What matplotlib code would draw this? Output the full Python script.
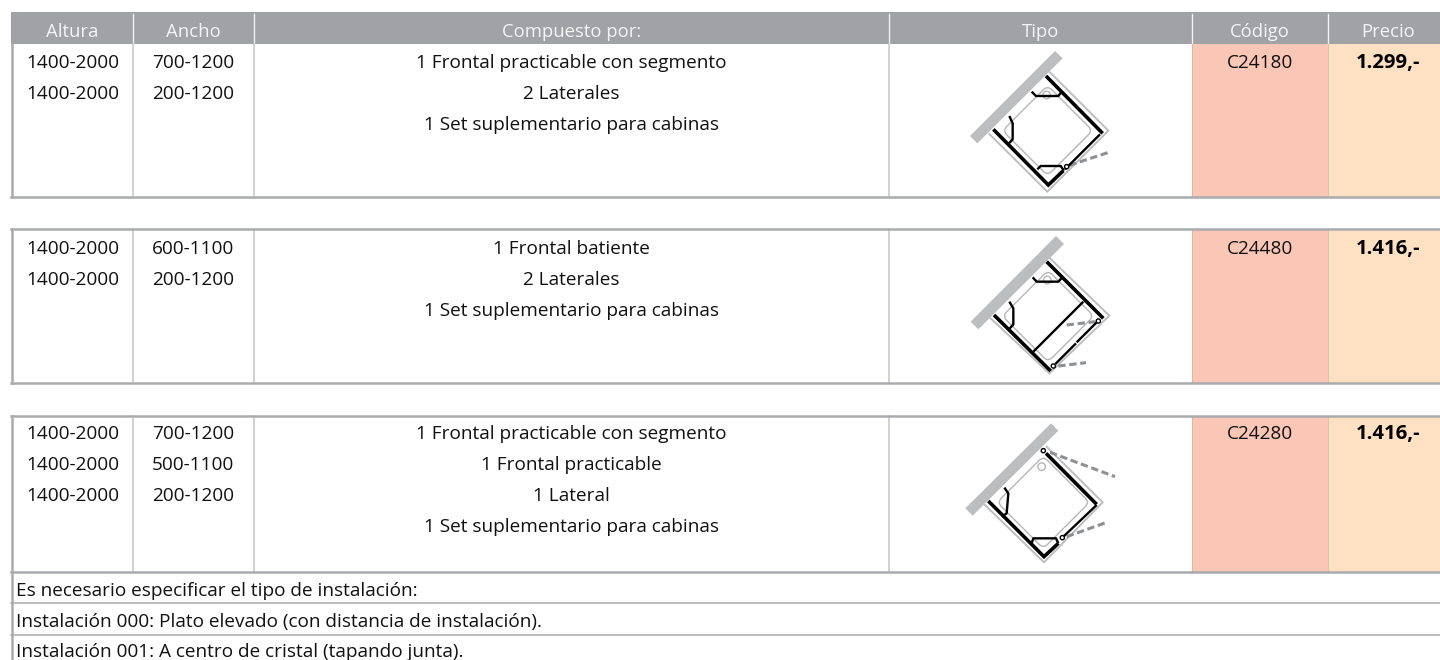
import matplotlib
matplotlib.use("Agg")
from matplotlib import pyplot as plt
from matplotlib.patches import Circle, FancyBboxPatch, Polygon, Rectangle
from matplotlib.transforms import Affine2D

plt.rcParams['font.family'] = ['Open Sans', 'DejaVu Sans']

# table contents
headers = ["Altura", "Ancho", "Compuesto por:", "Tipo", "Código", "Precio"]
alturas = [["1400-2000", "1400-2000"],
           ["1400-2000", "1400-2000"],
           ["1400-2000", "1400-2000", "1400-2000"]]
anchos = [["700-1200", "200-1200"],
          ["600-1100", "200-1200"],
          ["700-1200", "500-1100", "200-1200"]]
compuesto = [["1 Frontal practicable con segmento", "2 Laterales", "1 Set suplementario para cabinas"],
             ["1 Frontal batiente", "2 Laterales", "1 Set suplementario para cabinas"],
             ["1 Frontal practicable con segmento", "1 Frontal practicable", "1 Lateral",
              "1 Set suplementario para cabinas"]]
codigos = ["C24180", "C24480", "C24280"]
precios = ["1.299,-", "1.416,-", "1.416,-"]
notas = ["Es necesario especificar el tipo de instalación:",
         "Instalación 000: Plato elevado (con distancia de instalación).",
         "Instalación 001: A centro de cristal (tapando junta)."]

# layout in pixels, text positions are baselines
col_edges = [11, 133, 253.5, 889, 1192, 1328, 1440]
col_text = [72.5, 193, 571.5, 1040.5, 1259.5, 1388.5]
block_top = [44, 229, 416]
block_bottom = [197, 383, 571.5]
first_row = [68, 254, 439]
row_h = 31
head_y = 37
note_y = [596, 627, 657]
note_lines = [603, 634.5]

GREY = "#A0A2A5"
LINE = "#A9ABAE"
SOFT = "#C9CACC"
COD = "#FAC7B6"
PRE = "#FEE1C3"
FS = 13.7
FS_HEAD = 13.3
FS_PRICE = 14.6

# icons, in coordinates of a 3x crop of each icon
icons = [
    dict(origin=(950, 40),
         wall=[(315, 33), (338, 55), (82, 310), (60, 288)],
         outer=[(300, 97), (475, 272), (292, 455), (118, 282)],
         tray=[(290, 140), (428, 272), (295, 405), (158, 270)],
         thick=[[(288, 108), (458, 280)], [(130, 268), (295, 435), (340, 392)]],
         thin=[[(345, 388), (450, 283)],
               [(245, 155), (258, 168), (325, 168), (335, 155)],
               [(178, 228), (188, 250), (188, 298), (175, 312)],
               [(262, 388), (272, 378), (332, 378), (342, 392)]],
         dashes=[[(358, 376), (482, 335)]],
         hinges=[(350, 380)], drain=(290, 165)),
    dict(origin=(950, 225),
         wall=[(318, 33), (342, 57), (85, 313), (62, 290)],
         outer=[(300, 100), (478, 272), (298, 445), (122, 280)],
         tray=[(290, 143), (432, 275), (295, 405), (160, 270)],
         thick=[[(290, 110), (460, 280)], [(132, 270), (302, 438)]],
         thin=[[(250, 380), (400, 230)],
               [(316, 417), (378, 355)], [(380, 352), (440, 292)],
               [(248, 157), (260, 170), (325, 170), (337, 157)],
               [(178, 230), (190, 250), (190, 298), (178, 312)]],
         dashes=[[(350, 300), (435, 290)], [(325, 423), (408, 413)]],
         hinges=[(445, 288), (310, 423)], drain=(292, 165)),
    dict(origin=(950, 415),
         wall=[(303, 25), (325, 47), (68, 302), (46, 280)],
         outer=[(290, 95), (458, 262), (282, 442), (105, 270)],
         tray=[(275, 128), (415, 265), (285, 395), (145, 260)],
         thick=[[(288, 115), (440, 268)], [(115, 258), (282, 425), (325, 385)]],
         thin=[[(340, 365), (440, 270)],
               [(163, 218), (175, 235), (170, 295), (155, 305)],
               [(245, 385), (250, 370), (318, 370), (325, 385)]],
         dashes=[[(300, 112), (495, 185)], [(350, 365), (470, 322)]],
         hinges=[(280, 107), (337, 368)], drain=(275, 155)),
]


def px(origin, pts):
    return [(origin[0] + x / 3, origin[1] + y / 3) for x, y in pts]


def draw_icon(ax, ic):
    o = ic["origin"]
    ax.add_patch(Polygon(px(o, ic["wall"]), closed=True, fc="#BCBDBF", ec="none", zorder=3))
    xs, ys = zip(*px(o, ic["outer"]))
    ax.plot(xs, ys, color="#BDBEC0", lw=1.4, zorder=2, solid_joinstyle="miter")
    # tray: rounded square, rotated around its centre
    t = px(o, ic["tray"])
    cx = sum(p[0] for p in t) / 4
    cy = sum(p[1] for p in t) / 4
    side = ((t[0][0] - t[1][0]) ** 2 + (t[0][1] - t[1][1]) ** 2) ** 0.5
    tray = FancyBboxPatch((cx - side / 2 + 4, cy - side / 2 + 4), side - 8, side - 8,
                          boxstyle="round,pad=4,rounding_size=6", fc="none", ec="#B5B6B8", lw=1,
                          zorder=2, transform=Affine2D().rotate_deg_around(cx, cy, 45) + ax.transData)
    ax.add_patch(tray)
    dx, dy = px(o, [ic["drain"]])[0]
    ax.add_patch(Circle((dx, dy), 3.8, fc="none", ec="#B5B6B8", lw=1, zorder=2))
    for seg in ic["dashes"]:
        xs, ys = zip(*px(o, seg))
        ax.plot(xs, ys, color="#8E9093", lw=2.2, dashes=(2.4, 1.2), zorder=3)
    for seg in ic["thick"]:
        xs, ys = zip(*px(o, seg))
        ax.plot(xs, ys, color="black", lw=2.6, zorder=4, solid_capstyle="butt", solid_joinstyle="miter")
    for seg in ic["thin"]:
        xs, ys = zip(*px(o, seg))
        ax.plot(xs, ys, color="black", lw=1.7, zorder=4, solid_capstyle="butt")
    for h in px(o, ic["hinges"]):
        ax.add_patch(Circle(h, 2.1, fc="white", ec="black", lw=1, zorder=5))


fig = plt.figure(figsize=(14.4, 6.6), dpi=100)
ax = fig.add_axes([0, 0, 1, 1])
ax.set_xlim(0, 1440)
ax.set_ylim(660, 0)
ax.axis("off")

# header
ax.add_patch(Rectangle((11, 12), 1429, 32, fc=GREY, ec="none"))
for x in col_edges[1:-1]:
    ax.plot([x, x], [14, 44], color="#F0F0F1", lw=1)
for i, h in enumerate(headers):
    ax.text(col_text[i], head_y, h, color="#F4F4F5", fontsize=FS_HEAD, ha="center", va="baseline")

# blocks
for b in range(3):
    top, bottom = block_top[b], block_bottom[b]
    ax.add_patch(Rectangle((col_edges[4], top), col_edges[5] - col_edges[4], bottom - top, fc=COD, ec="none"))
    ax.add_patch(Rectangle((col_edges[5], top), col_edges[6] - col_edges[5], bottom - top, fc=PRE, ec="none"))
    for x in col_edges[1:4]:
        ax.plot([x, x], [top, bottom], color=SOFT, lw=1.2)
    ax.plot([col_edges[4], col_edges[4]], [top, bottom], color="#D9B5A8", lw=0.8)
    ax.plot([col_edges[5], col_edges[5]], [top, bottom], color="#D9C4AE", lw=0.8)
    ax.plot([12, 12], [top, bottom], color=LINE, lw=1.8)
    ax.plot([11, 1440], [bottom, bottom], color=LINE, lw=1.8)
    if b > 0:
        ax.plot([11, 1440], [top, top], color=LINE, lw=1.8)
    for col, rows in enumerate([alturas[b], anchos[b], compuesto[b]]):
        for r, t in enumerate(rows):
            ax.text(col_text[col], first_row[b] + r * row_h, t, fontsize=FS, ha="center", va="baseline", color="#111111")
    ax.text(col_text[4], first_row[b], codigos[b], fontsize=FS, ha="center", va="baseline", color="#111111")
    ax.text(col_text[5], first_row[b], precios[b], fontsize=FS_PRICE, ha="center", va="baseline", color="black", fontweight="bold")
    draw_icon(ax, icons[b])

# notes under the last block
ax.plot([12, 12], [572, 660], color=LINE, lw=1.8)
for y in note_lines:
    ax.plot([11, 1440], [y, y], color=LINE, lw=1.1)
for y, t in zip(note_y, notas):
    ax.text(16, y, t, fontsize=FS, ha="left", va="baseline", color="#111111")

fig.savefig("out.png", dpi=100)
